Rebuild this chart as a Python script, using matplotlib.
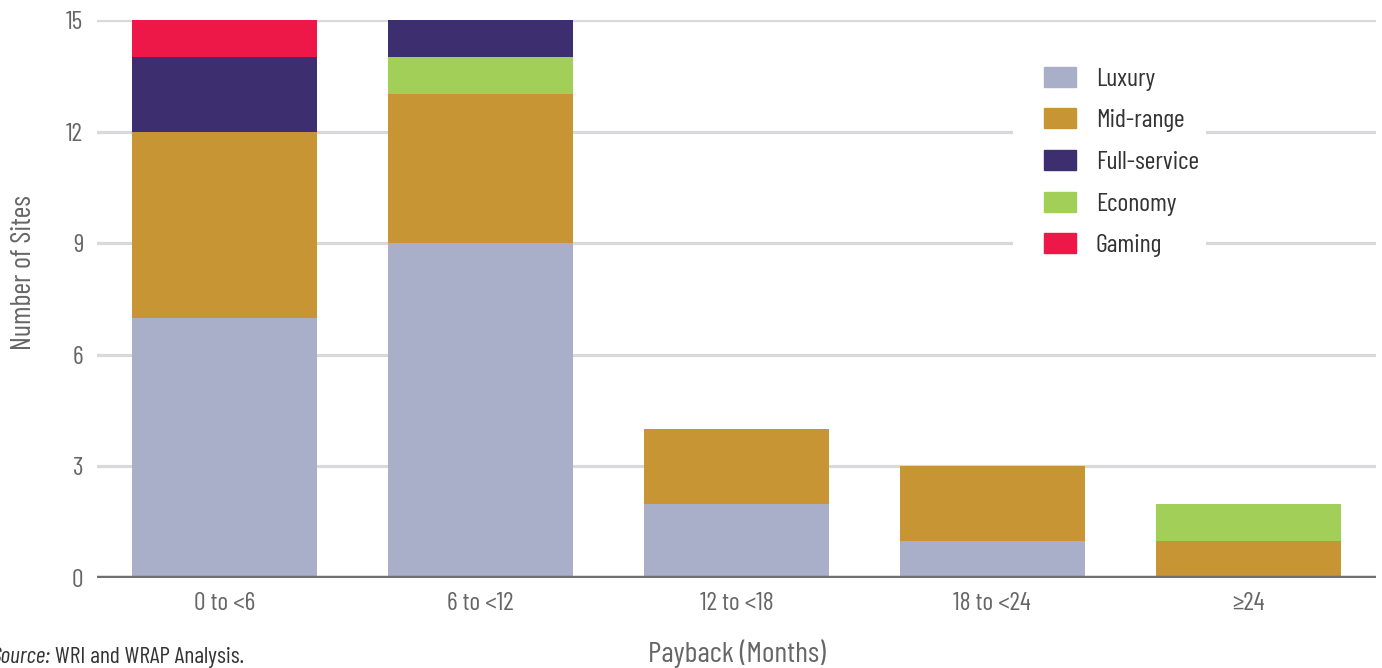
import numpy as np
import matplotlib
matplotlib.use("Agg")
import matplotlib.pyplot as plt
from matplotlib.patches import Patch, Rectangle

plt.rcParams["font.family"] = ["Barlow Condensed", "DejaVu Sans"]

categories = ["0 to <6", "6 to <12", "12 to <18", "18 to <24", "\u226524"]
luxury = [7, 9, 2, 1, 0]
mid_range = [5, 4, 2, 2, 1]
economy = [0, 1, 0, 0, 1]
full_service = [2, 1, 0, 0, 0]
gaming = [1, 0, 0, 0, 0]

# stacking order bottom -> top
stack = [
    ("Luxury", luxury, "#aaafc9"),
    ("Mid-range", mid_range, "#c79533"),
    ("Economy", economy, "#a2cf58"),
    ("Full-service", full_service, "#3d2e6f"),
    ("Gaming", gaming, "#ee1848"),
]
legend_order = ["Luxury", "Mid-range", "Full-service", "Economy", "Gaming"]

TXT = "#666666"


def main():
    fig = plt.figure(figsize=(13.82, 6.68), dpi=100)
    ax = fig.add_axes([0.0702, 0.1347, 0.9255, 0.8353])

    x = np.arange(len(categories))
    bottom = np.zeros(len(categories))
    colors = {}
    for name, vals, col in stack:
        ax.bar(x, vals, bottom=bottom, width=0.723, color=col, zorder=3)
        bottom += np.array(vals)
        colors[name] = col

    ax.set_xlim(-0.5, len(categories) - 0.5)
    ax.set_ylim(0, 15)
    ax.set_yticks([0, 3, 6, 9, 12, 15])
    ax.set_xticks(x)
    ax.set_xticklabels(categories)
    ax.tick_params(axis="both", length=0, colors=TXT, labelsize=18.5)
    ax.tick_params(axis="y", pad=10)
    ax.tick_params(axis="x", pad=10)
    for v in [3, 6, 9, 12, 15]:
        ax.axhline(v, color="#d9d9db", lw=2.3, zorder=1)
    ax.axhline(0, color="#6f6f72", lw=3.2, zorder=4)
    for s in ax.spines.values():
        s.set_visible(False)

    ax.set_ylabel("Number of Sites", fontsize=20.5, color=TXT)
    ax.yaxis.set_label_coords(-0.057, 0.5466)
    ax.yaxis.label.set_va("center")
    ax.set_xlabel("Payback (Months)", fontsize=21.5, color=TXT)
    ax.xaxis.set_label_coords(0.5, -0.1505)
    ax.xaxis.label.set_va("baseline")

    # white block behind the legend, breaking the gridlines
    ax.add_patch(Rectangle((0.7162, 0.561), 0.1509, 0.403, transform=ax.transAxes,
                           facecolor="white", edgecolor="none", zorder=2))
    handles = [Patch(color=colors[n]) for n in legend_order]
    leg = ax.legend(handles, legend_order, loc="upper left",
                    bbox_to_anchor=(0.7404, 0.9166), frameon=False,
                    fontsize=18.7, handlelength=1.23, handleheight=0.81,
                    handletextpad=0.77, labelspacing=0.68,
                    borderpad=0, borderaxespad=0)
    leg.set_zorder(5)
    for t in leg.get_texts():
        t.set_color("#333333")

    fig.text(50 / 1382, 0.0075, "Source:", fontsize=17, style="italic",
             color="#333333", ha="right", va="baseline")
    fig.text(55 / 1382, 0.0075, "WRI and WRAP Analysis.",
             fontsize=17, color="#333333", ha="left", va="baseline")

    fig.savefig("out.png", dpi=100)
    plt.close(fig)


if __name__ == "__main__":
    main()
